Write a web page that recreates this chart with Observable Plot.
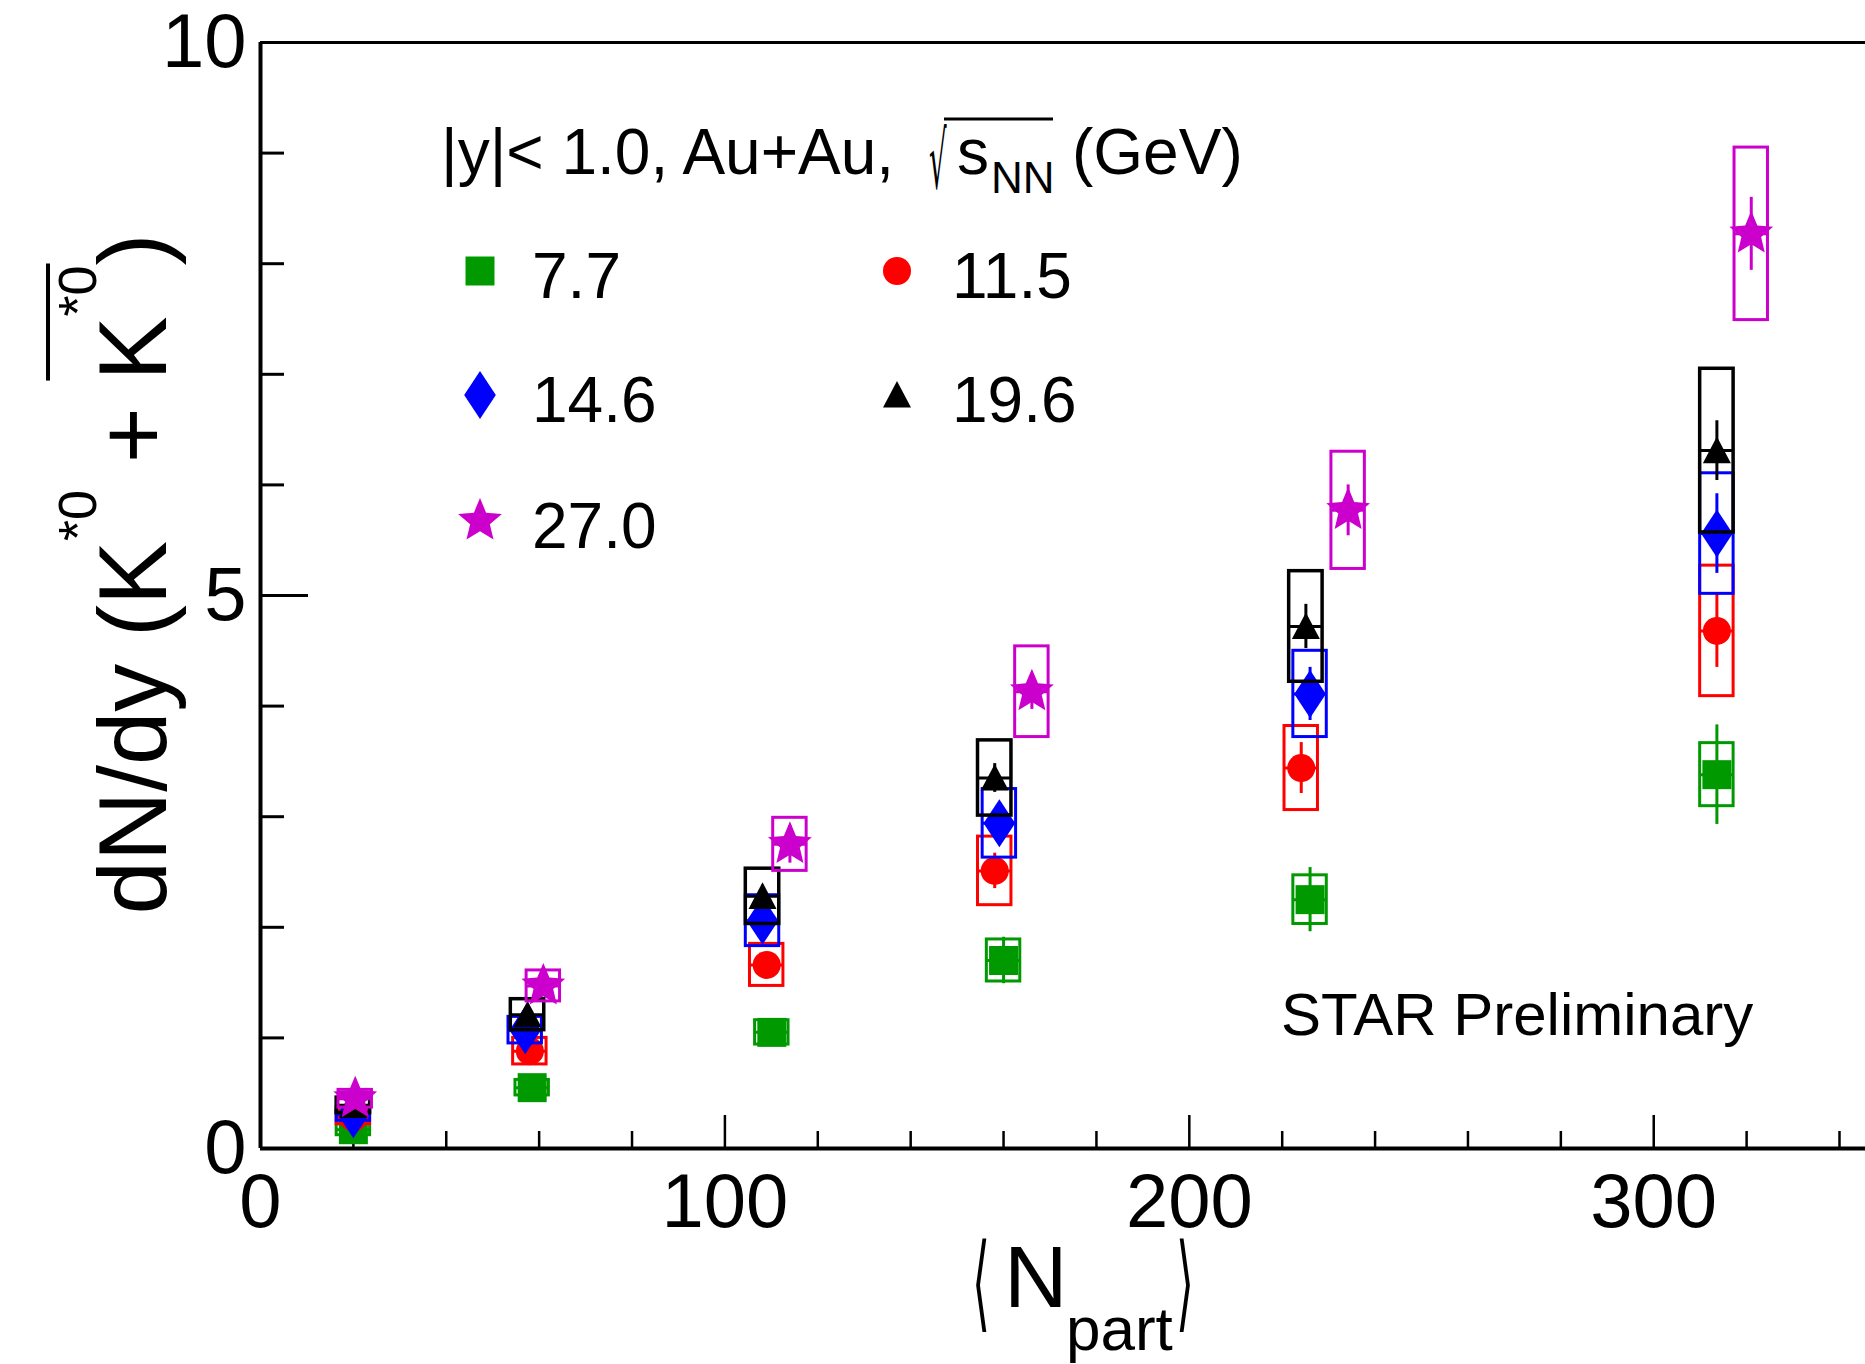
<!DOCTYPE html>
<html><head><meta charset="utf-8">
<script src="https://cdn.jsdelivr.net/npm/d3@7"></script>
<script src="https://cdn.jsdelivr.net/npm/@observablehq/plot@0.6"></script>
<style>html,body{margin:0;padding:0;background:#fff;} svg{display:block;}</style>
</head><body><div id="chart"></div>
<script>
// ---- data ----
const energies = ["7.7", "11.5", "14.6", "19.6", "27.0"];
const seriesColors = ["#009900", "#ff0000", "#0000ff", "#000000", "#cc00cc"];

const npart_7p7  = [20.0, 58.5, 110.1, 160.0, 226.0, 313.6];
const npart_11p5 = [20.0, 58.0, 109.0, 158.1, 224.1, 313.6];
const npart_14p6 = [20.0, 57.0, 108.1, 159.1, 226.0, 313.6];
const npart_19p6 = [20.0, 57.5, 108.1, 158.1, 225.1, 313.6];
const npart_27p0 = [20.4, 60.9, 114.0, 166.1, 234.2, 321.0];

const dndy_7p7  = [0.17, 0.55, 1.05, 1.70, 2.25, 3.38];
const dndy_11p5 = [0.28, 0.88, 1.66, 2.51, 3.44, 4.68];
const dndy_14p6 = [0.31, 1.07, 2.06, 2.94, 4.11, 5.56];
const dndy_19p6 = [0.39, 1.21, 2.28, 3.35, 4.72, 6.31];
const dndy_27p0 = [0.45, 1.47, 2.75, 4.13, 5.77, 8.27];

const stat_7p7  = [0.03, 0.05, 0.09, 0.21, 0.29, 0.45];
const stat_11p5 = [0.03, 0.05, 0.08, 0.16, 0.23, 0.33];
const stat_14p6 = [0.03, 0.05, 0.10, 0.12, 0.24, 0.36];
const stat_19p6 = [0.03, 0.06, 0.10, 0.13, 0.20, 0.27];
const stat_27p0 = [0.04, 0.07, 0.17, 0.16, 0.23, 0.33];

const sys_7p7  = [0.05, 0.07, 0.11, 0.19, 0.22, 0.285];
const sys_11p5 = [0.06, 0.12, 0.19, 0.31, 0.38, 0.59];
const sys_14p6 = [0.06, 0.12, 0.23, 0.31, 0.39, 0.545];
const sys_19p6 = [0.07, 0.14, 0.25, 0.34, 0.50, 0.74];
const sys_27p0 = [0.08, 0.14, 0.24, 0.41, 0.53, 0.78];

const xMajorTicks = [0, 100, 200, 300];
const xMinorTicks = [20, 40, 60, 80, 120, 140, 160, 180, 220, 240, 260, 280, 320, 340];
const yMajorTicks = [0, 5, 10];
const yMinorTicks = [1, 2, 3, 4, 6, 7, 8, 9];

// ---- layout / style ----
const W = 1865, H = 1364;
const FONT = "'Liberation Sans', Arial, Helvetica, sans-serif";
const BOX_HALF = 3.6; // half width of systematic boxes in Npart units

function sym(fn) { return {draw(c, size) { fn(c, Math.sqrt(size / Math.PI)); }}; }
const symSquare = sym((c, r) => { c.moveTo(-r, -r); c.lineTo(r, -r); c.lineTo(r, r); c.lineTo(-r, r); c.closePath(); });
const symCircle = sym((c, r) => { c.moveTo(r, 0); c.arc(0, 0, r, 0, 2 * Math.PI); c.closePath(); });
const symDiamond = sym((c, r) => { const w = r * 0.66; c.moveTo(0, -r); c.lineTo(w, 0); c.lineTo(0, r); c.lineTo(-w, 0); c.closePath(); });
const symTriangle = sym((c, r) => { c.moveTo(0, -r); c.lineTo(r, r * 0.9); c.lineTo(-r, r * 0.9); c.closePath(); });
const symStar = sym((c, r) => {
  const ri = r * 0.45;
  for (let i = 0; i < 10; i++) {
    const a = -Math.PI / 2 + i * Math.PI / 5, rr = i % 2 ? ri : r;
    const px = rr * Math.cos(a), py = rr * Math.sin(a);
    if (i) c.lineTo(px, py); else c.moveTo(px, py);
  }
  c.closePath();
});
const symbols = [symSquare, symCircle, symDiamond, symTriangle, symStar];
const radii = [14.5, 14, 24, 14, 23];

const npartAll = [npart_7p7, npart_11p5, npart_14p6, npart_19p6, npart_27p0];
const dndyAll = [dndy_7p7, dndy_11p5, dndy_14p6, dndy_19p6, dndy_27p0];
const statAll = [stat_7p7, stat_11p5, stat_14p6, stat_19p6, stat_27p0];
const sysAll = [sys_7p7, sys_11p5, sys_14p6, sys_19p6, sys_27p0];

const series = energies.map((e, i) => ({
  energy: e, color: seriesColors[i],
  rows: npartAll[i].map((x, j) => ({x, y: dndyAll[i][j], stat: statAll[i][j], sys: sysAll[i][j]}))
}));

const marks = [];
// axes
marks.push(Plot.axisX({ticks: xMinorTicks, tickSize: -17, tickFormat: () => "", strokeWidth: 2.5, label: null}));
marks.push(Plot.axisX({ticks: xMajorTicks, tickSize: -33, tickFormat: () => "", strokeWidth: 2.5, label: null}));
marks.push(Plot.axisX({ticks: xMajorTicks, tickSize: 0, tickPadding: 25, fontSize: 76, fill: "#000", label: null}));
marks.push(Plot.axisY({ticks: yMinorTicks, tickSize: -24, tickFormat: () => "", strokeWidth: 3, label: null}));
marks.push(Plot.axisY({ticks: yMajorTicks, tickSize: -48, tickFormat: () => "", strokeWidth: 3, label: null}));
marks.push(Plot.axisY({ticks: yMajorTicks, tickSize: 0, tickPadding: 14, fontSize: 76, fill: "#000", label: null}));
marks.push(Plot.ruleY([10], {stroke: "#000", strokeWidth: 3}));
marks.push(Plot.ruleY([0], {stroke: "#000", strokeWidth: 4}));
marks.push(Plot.ruleX([0], {stroke: "#000", strokeWidth: 4}));

series.forEach((s, i) => {
  marks.push(Plot.rect(s.rows, {x1: d => d.x - BOX_HALF, x2: d => d.x + BOX_HALF, y1: d => d.y - d.sys, y2: d => d.y + d.sys,
    fill: "none", stroke: s.color, strokeWidth: i === 3 ? 3.5 : 3}));
  marks.push(Plot.ruleY(s.rows, {y: "y", x1: d => d.x - BOX_HALF, x2: d => d.x + BOX_HALF, stroke: s.color, strokeWidth: 3}));
  marks.push(Plot.ruleX(s.rows, {x: "x", y1: d => d.y - d.stat, y2: d => d.y + d.stat, stroke: s.color, strokeWidth: 3}));
  marks.push(Plot.dot(s.rows, {x: "x", y: "y", symbol: symbols[i], r: radii[i], fill: s.color, stroke: "none"}));
});

const plot = Plot.plot({
  width: W, height: H,
  marginLeft: 260, marginRight: 0, marginTop: 42, marginBottom: 216,
  x: {domain: [0, 345.6], label: null},
  y: {domain: [0, 10], label: null},
  style: {fontFamily: FONT, background: "#fff", color: "#000"},
  marks
});
document.getElementById("chart").appendChild(plot);

// ---- text overlays ----
const svg = d3.select(plot);
const T = svg.append("g").attr("font-family", FONT).attr("fill", "#000").attr("text-anchor", "start");

// x-axis title  <N_part>
const BRACKET_FONT = "'DejaVu Sans', sans-serif";
T.append("text").attr("transform", "translate(972,1318) scale(0.55,1.25)")
  .attr("font-family", BRACKET_FONT).attr("font-size", 84).text("\u27E8");
T.append("text").attr("x", 1004).attr("y", 1307).attr("font-size", 88).text("N");
T.append("text").attr("x", 1066).attr("y", 1350).attr("font-size", 62).text("part");
T.append("text").attr("transform", "translate(1176,1318) scale(0.55,1.25)")
  .attr("font-family", BRACKET_FONT).attr("font-size", 84).text("\u27E9");

// y-axis title
const yg = T.append("g").attr("transform", "translate(166,574) rotate(-90)");
const yt = yg.append("text").attr("x", 0).attr("y", 0).attr("text-anchor", "middle").attr("font-size", 96);
yt.append("tspan").text("dN/dy (K");
yt.append("tspan").attr("font-size", 54).attr("dy", -70).text("*0");
yt.append("tspan").attr("dy", 70).text(" + K");
yt.append("tspan").attr("font-size", 54).attr("dy", -70).text("*0");
yt.append("tspan").attr("dy", 70).text(")");
{
  const node = yt.node();
  const str = node.textContent;
  const kIdx = str.lastIndexOf("K");
  const x0 = node.getStartPositionOfChar(kIdx).x;
  const x1 = node.getEndPositionOfChar(str.length - 2).x;
  yg.append("line").attr("x1", x0).attr("x2", x1 + 2).attr("y1", -118).attr("y2", -118)
    .attr("stroke", "#000").attr("stroke-width", 4);
}

// legend header
T.append("text").attr("x", 441).attr("y", 174).attr("font-size", 64).text("|y|< 1.0, Au+Au,");
T.append("text").attr("transform", "translate(929,188) scale(0.42,1.2)")
  .attr("font-family", BRACKET_FONT).attr("font-size", 66).text("\u221A");
T.append("text").attr("x", 957).attr("y", 174).attr("font-size", 64).text("s");
T.append("text").attr("x", 991).attr("y", 193).attr("font-size", 44).text("NN");
T.append("line").attr("x1", 944).attr("x2", 1053).attr("y1", 119).attr("y2", 119).attr("stroke", "#000").attr("stroke-width", 3);
T.append("text").attr("x", 1072).attr("y", 174).attr("font-size", 64).text("(GeV)");

// legend entries
const legendPos = [[480, 271], [897, 271], [480, 395], [897, 395], [480, 521]];
series.forEach((s, i) => {
  const [lx, ly] = legendPos[i];
  T.append("path").attr("transform", `translate(${lx},${ly})`)
    .attr("d", d3.symbol(symbols[i], Math.PI * radii[i] * radii[i])())
    .attr("fill", s.color);
  T.append("text").attr("x", lx + 52 + (i % 2) * 3).attr("y", ly + 27).attr("font-size", 64).text(s.energy);
});

T.append("text").attr("x", 1281).attr("y", 1035).attr("font-size", 60).text("STAR Preliminary");
</script>
</body></html>
